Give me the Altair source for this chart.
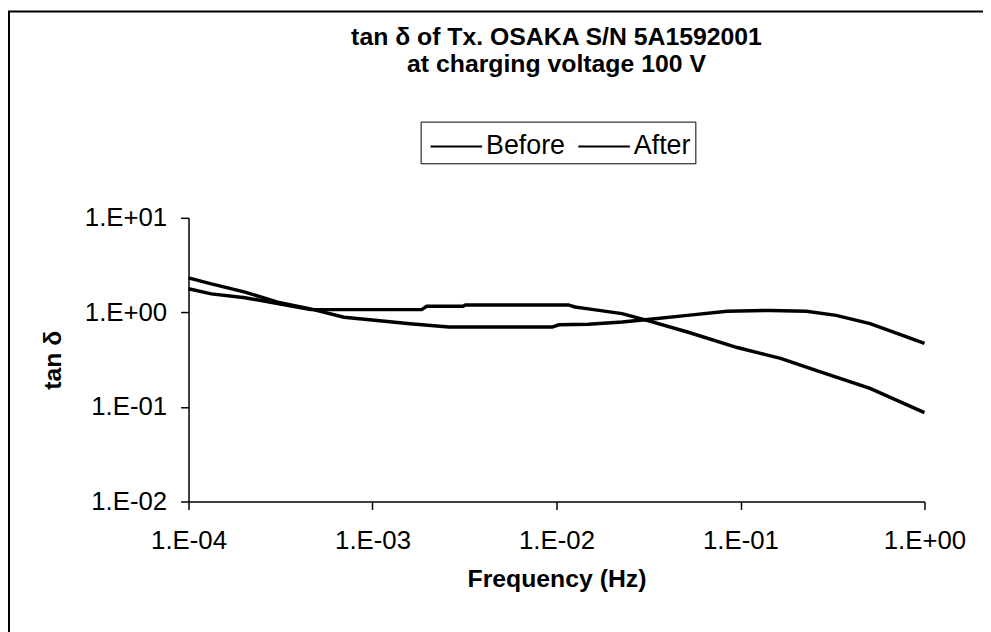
import altair as alt
import pandas as pd

# Frequency (Hz) and tan delta values
freq_before = [1e-4, 1.33e-4, 2.03e-4, 3.05e-4, 4.6e-4, 7.0e-4, 1.06e-3, 1.6e-3, 2.6e-3,
               5.0e-3, 9.5e-3, 1.03e-2, 1.49e-2, 2.27e-2, 3.13e-2, 5.15e-2, 8.45e-2,
               0.146, 0.228, 0.331, 0.506, 0.76, 1.0]
tan_before = [2.32, 2.00, 1.64, 1.28, 1.09, 0.89, 0.82, 0.76, 0.70,
              0.70, 0.70, 0.74, 0.75, 0.79, 0.84, 0.93, 1.03,
              1.05, 1.03, 0.93, 0.76, 0.57, 0.47]

freq_after = [1e-4, 1.33e-4, 2.03e-4, 3.05e-4, 4.6e-4, 5.7e-4, 1.36e-3, 1.85e-3, 1.97e-3,
              3.1e-3, 3.2e-3, 1.16e-2, 1.26e-2, 1.49e-2, 2.27e-2, 3.0e-2, 5.15e-2,
              9.6e-2, 0.165, 0.272, 0.506, 1.0]
tan_after = [1.78, 1.57, 1.43, 1.24, 1.07, 1.07, 1.07, 1.07, 1.16,
             1.16, 1.20, 1.20, 1.14, 1.09, 0.97, 0.84, 0.62,
             0.425, 0.326, 0.235, 0.157, 0.087]

series_names = ["Before", "After"]

x_ticks = [1e-4, 1e-3, 1e-2, 1e-1, 1.0]
x_labels = ["1.E-04", "1.E-03", "1.E-02", "1.E-01", "1.E+00"]
y_ticks = [0.01, 0.1, 1.0, 10.0]
y_labels = ["1.E-02", "1.E-01", "1.E+00", "1.E+01"]

df = pd.concat([
    pd.DataFrame({"series": series_names[0], "freq": freq_before, "tan": tan_before,
                  "order": range(len(freq_before))}),
    pd.DataFrame({"series": series_names[1], "freq": freq_after, "tan": tan_after,
                  "order": range(len(freq_after))}),
])


def label_expr(vals, labs):
    expr = "''"
    for v, l in zip(vals, labs):
        expr = f"(abs(log(datum.value) - log({v})) < 0.01 ? '{l}' : {expr})"
    return expr


FONT = "Liberation Sans"

lines = alt.Chart(df).mark_line(strokeWidth=3.5).encode(
    x=alt.X("freq:Q",
            scale=alt.Scale(type="log", domain=[1e-4, 1.0], nice=False),
            axis=alt.Axis(values=x_ticks, labelExpr=label_expr(x_ticks, x_labels),
                          title="Frequency (Hz)", grid=False, tickSize=8,
                          labelPadding=18, titlePadding=14, labelFlush=False)),
    y=alt.Y("tan:Q",
            scale=alt.Scale(type="log", domain=[0.01, 10.0], nice=False),
            axis=alt.Axis(values=y_ticks, labelExpr=label_expr(y_ticks, y_labels),
                          title="tan δ", grid=False, tickSize=8,
                          labelPadding=14, titlePadding=19)),
    color=alt.Color("series:N",
                    scale=alt.Scale(domain=series_names, range=["black", "black"]),
                    legend=alt.Legend(title=None, orient="none", legendX=234, legendY=-97,
                                      direction="horizontal", strokeColor="black",
                                      padding=4, symbolType="M-1.3,0H1.3",
                                      symbolStrokeWidth=2, symbolSize=1600,
                                      symbolOffset=11,
                                      labelFontSize=27, labelFont=FONT,
                                      labelColor="black", columnPadding=7,
                                      labelOffset=9)),
    detail="series:N",
    order="order:Q",
)

border = alt.Chart(pd.DataFrame({"a": [0]})).mark_rect(
    fill=None, stroke="black", strokeWidth=2
).encode(
    x=alt.value(-181), x2=alt.value(820), y=alt.value(-208), y2=alt.value(440)
)

chart = alt.layer(border, lines).properties(
    width=742, height=286,
    autosize=alt.AutoSizeParams(type="none"),
    padding={"left": 182, "top": 209, "right": 59, "bottom": 129},
    title=alt.TitleParams(
        text=["tan δ of Tx. OSAKA S/N 5A1592001", "at charging voltage 100 V"],
        fontSize=25, font=FONT, fontWeight="bold", color="black",
        anchor="middle", frame="group", lineHeight=27, offset=-67,
    ),
).configure_view(stroke=None).configure_axis(
    labelFont=FONT, labelFontSize=26, labelColor="black",
    titleFont=FONT, titleFontSize=25, titleFontWeight="bold", titleColor="black",
    domainColor="black", tickColor="black", domainWidth=1.5, tickWidth=1.5,
)

chart.save("out.html", embed_options={"renderer": "svg", "actions": False})
